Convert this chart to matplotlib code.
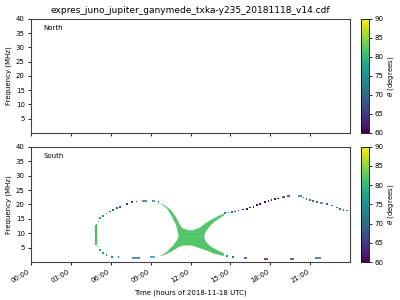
import numpy as np
import matplotlib
matplotlib.use("Agg")
import matplotlib.pyplot as plt
import matplotlib.dates as mdates
from matplotlib import colors, cm

# values
# times in hours of 2018-11-18, frequencies in MHz, theta in degrees
title = "expres_juno_jupiter_ganymede_txka-y235_20181118_v14.cdf"
hemispheres = ["North", "South"]
tick_hours = [0, 3, 6, 9, 12, 15, 18, 21]

# the filled "X" part of the southern emission
x_hours = [9.71, 9.96, 10.21, 10.46, 10.58, 10.71, 10.84, 10.96, 11.09, 11.34,
           11.72, 12.09, 12.59, 12.97, 13.09, 13.34, 13.47, 13.72, 14.09, 14.47]
x_up_outer = [20.5, 19.9, 19.1, 18.2, 17.5, 16.7, 15.9, 14.8, 13.6, 11.9,
              11.3, 11.1, 11.9, 13.1, 13.6, 14.3, 14.7, 15.3, 16.2, 16.9]
x_up_inner = [20.5, 19.7, 18.8, 16.9, 15.9, 14.7, 13.6, 11.9, 9.0, 9.0,
              9.0, 9.0, 9.0, 9.0, 10.7, 12.3, 13.0, 14.1, 15.3, 16.4]
x_lo_inner = [2.4, 3.0, 3.8, 5.0, 5.5, 6.1, 7.0, 7.8, 9.0, 9.0,
              9.0, 9.0, 9.0, 9.0, 7.3, 6.1, 5.6, 4.9, 4.0, 3.2]
x_lo_outer = [2.4, 2.7, 3.2, 3.8, 4.1, 4.5, 4.8, 5.2, 5.5, 6.0,
              6.1, 6.0, 5.2, 4.6, 4.4, 4.0, 3.7, 3.2, 2.8, 2.4]
x_theta = 82

# left edge of the loop
edge_hour = 4.86
edge_f = [6.0, 12.9]
edge_theta = 81

# single dots
dot_hours = [4.94, 5.07, 5.19, 5.44, 5.69, 5.94, 6.19, 6.45, 6.70, 7.20, 7.58, 7.95,
             9.58,
             4.99, 5.19, 5.44, 5.69, 6.07, 6.57,
             14.73, 15.22,
             14.60, 14.85, 15.10, 15.35, 15.60, 15.97, 16.23, 16.48, 16.73, 16.98,
             17.23, 17.60, 17.86, 18.10, 18.35, 18.60,
             20.50, 20.74, 21.00, 21.24, 21.50, 22.25, 22.63, 23.00, 23.25, 23.50, 23.76]
dot_freq = [12.9, 14.1, 15.2, 16.1, 16.9, 17.5, 18.1, 18.7, 19.2, 20.2, 20.8, 21.0,
            20.8,
            5.4, 4.3, 3.1, 2.5, 1.9, 1.7,
            2.2, 1.7,
            17.0, 17.2, 17.4, 17.6, 17.9, 18.2, 18.5, 18.9, 19.2, 19.8,
            20.2, 20.8, 21.2, 21.6, 21.9, 22.1,
            22.4, 21.9, 21.6, 21.2, 20.8, 20.1, 19.6, 19.0, 18.4, 18.1, 17.9]
dot_theta = [81, 80, 78, 76, 74, 72, 70, 68, 67, 65, 65, 66,
             75,
             80, 79, 77, 76, 75, 74,
             74, 72,
             75, 73, 71, 68, 65, 62, 61, 61, 61, 61,
             61, 61, 61, 61, 61, 61,
             71, 71, 71, 71, 71, 71, 71, 71, 71, 71, 71]

# short horizontal dashes
dash_start = [8.33, 9.08, 7.58, 8.95, 16.05, 17.53, 19.50, 21.37, 18.85, 19.24, 20.10, 21.75]
dash_end = [8.70, 9.33, 8.20, 9.33, 16.23, 17.80, 19.80, 21.80, 19.10, 19.50, 20.40, 22.00]
dash_freq = [21.3, 21.3, 1.4, 1.7, 1.4, 1.0, 1.0, 1.4, 22.6, 22.9, 22.9, 20.4]
dash_theta = [71, 73, 71, 76, 65, 61, 64, 69, 62, 62, 71, 71]

day = mdates.date2num(np.datetime64("2018-11-18T00:00"))


def to_num(hours):
    return day + np.asarray(hours, dtype=float) / 24.0


cmap = plt.get_cmap("viridis")
norm = colors.Normalize(vmin=60, vmax=90)

fig = plt.figure(figsize=(4, 3), dpi=100)
ax_n = fig.add_axes([0.0775, 0.557, 0.7975, 0.38])
ax_s = fig.add_axes([0.0775, 0.126, 0.7975, 0.385], sharex=ax_n)
cax_n = fig.add_axes([0.902, 0.557, 0.021, 0.38])
cax_s = fig.add_axes([0.902, 0.126, 0.021, 0.385])

# south emission
tx = to_num(x_hours)
green = cmap(norm(x_theta))
ax_s.fill_between(tx, x_up_inner, x_up_outer, color=green, linewidth=0.3)
ax_s.fill_between(tx, x_lo_outer, x_lo_inner, color=green, linewidth=0.3)
ax_s.vlines(to_num(edge_hour), edge_f[0], edge_f[1], colors=[cmap(norm(edge_theta))], linewidth=1.6)
ax_s.scatter(to_num(dot_hours), dot_freq, c=dot_theta, cmap=cmap, norm=norm,
             marker="s", s=1.4, linewidths=0)
ax_s.hlines(dash_freq, to_num(dash_start), to_num(dash_end),
            colors=cmap(norm(np.array(dash_theta))), linewidth=1.1)

for ax, cax, name in zip([ax_n, ax_s], [cax_n, cax_s], hemispheres):
    ax.set_xlim(day, day + 1)
    ax.set_ylim(0, 40)
    ax.set_yticks([5, 10, 15, 20, 25, 30, 35, 40])
    ax.set_ylabel("Frequency (MHz)", fontsize=5, labelpad=3)
    ax.tick_params(labelsize=5, length=2.5, width=0.6, pad=2)
    for sp in ax.spines.values():
        sp.set_linewidth(0.8)
        sp.set_color("#444444")
    ax.text(0.04, 0.9, name, transform=ax.transAxes, fontsize=5)
    cb = fig.colorbar(cm.ScalarMappable(norm=norm, cmap=cmap), cax=cax,
                      ticks=[60, 65, 70, 75, 80, 85, 90])
    cb.ax.tick_params(labelsize=5, length=2, width=0.6, pad=1.5)
    cb.set_label(r"$\theta$ (degrees)", fontsize=5, labelpad=2)
    cb.outline.set_linewidth(0.6)

ax_s.set_xticks(to_num(tick_hours))
ax_s.xaxis.set_major_formatter(mdates.DateFormatter("%H:%M"))
plt.setp(ax_n.get_xticklabels(), visible=False)
plt.setp(ax_s.get_xticklabels(), rotation=30, ha="right")
ax_s.set_xlabel("Time (hours of 2018-11-18 UTC)", fontsize=5)
ax_n.set_title(title, fontsize=6.5, pad=4)

fig.savefig("out.png", dpi=100)
plt.close(fig)
